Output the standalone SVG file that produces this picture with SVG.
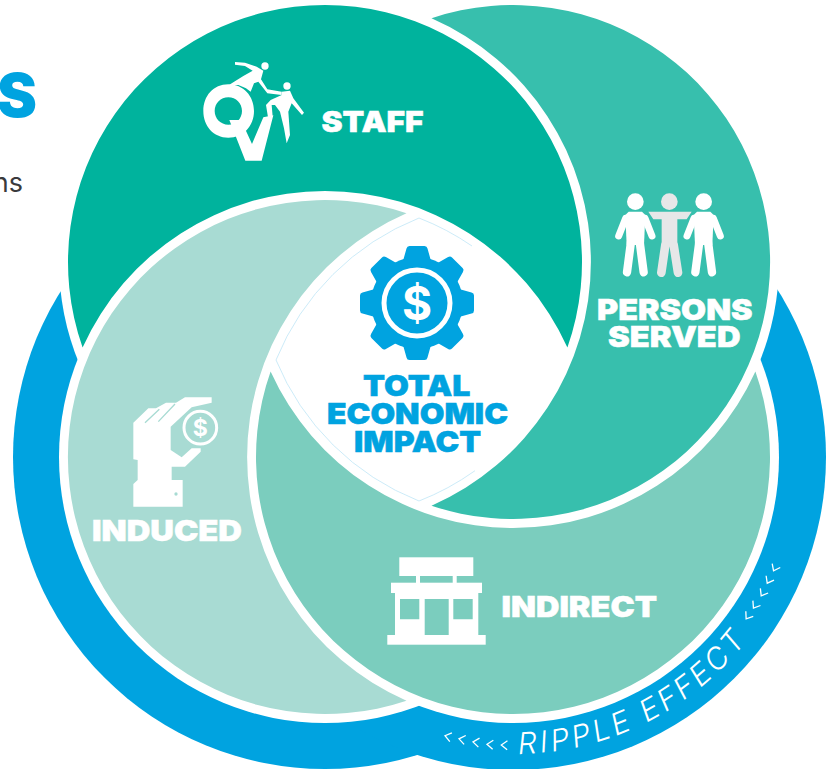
<svg xmlns="http://www.w3.org/2000/svg" xmlns:xlink="http://www.w3.org/1999/xlink" width="833" height="769" viewBox="0 0 833 769">
<style>
.lab{font-family:"Inter","Liberation Sans",sans-serif;font-weight:900;font-size:29px;fill:#fff;stroke:#fff;stroke-width:.5}
.tei{fill:#00A3E0;stroke:#00A3E0}
.blue{fill:#00A3E0}
.w{fill:#fff}
.g{fill:#E6E7E8}
.ws{stroke:#fff;fill:none;stroke-linecap:round;stroke-linejoin:round}
.gs{stroke:#E6E7E8;fill:none;stroke-linecap:round}
.chev{fill:none;stroke:#fff;stroke-width:1.3}
</style>
<defs>
<path id="tooth" d="M-14 -42L-10.500 -54.500Q-10 -57 -7.500 -57L7.500 -57Q10 -57 10.500 -54.500L14 -42Z"/>
<polyline id="chev" class="chev" points="5,-4.500 -1,0 5,4.500"/>
<g id="person">
<circle cx="0" cy="0" r="25"/>
<path class="ws" stroke-width="21" d="M-29 50L-50 103M29 50L50 103"/>
<path class="ws" stroke-width="25" d="M-13 120L-25 212M13 120L25 212"/>
<path d="M-20 30H20L30 40L26 130H-26L-30 40Z" class="w"/>
</g>
<path id="ripple" d="M518.200 754A297 297 0 0 0 744 644"/>
</defs>

<g id="heading-fragment">
<text x="37" y="117" text-anchor="end" font-family="Inter,'Liberation Sans',sans-serif" font-weight="900" font-size="60" class="blue">S</text>
<text x="23" y="192" text-anchor="end" font-family="Inter,'Liberation Sans',sans-serif" font-size="27" fill="#3A3A3C">ns</text>
</g>

<g id="ripple-effect">
<circle cx="325" cy="457" r="312" class="blue"/>
<circle cx="513" cy="457" r="313" class="blue"/>
<circle cx="325" cy="262" r="266" class="w"/>
<circle cx="513" cy="262" r="266" class="w"/>
<circle cx="325" cy="457" r="266" class="w"/>
<circle cx="513" cy="457" r="266" class="w"/>
<text font-family="Inter,'Liberation Sans',sans-serif" font-weight="300" font-style="italic" font-size="30" fill="#fff" letter-spacing="3.600"><textPath href="#ripple" xlink:href="#ripple">RIPPLE EFFECT</textPath></text>
<use href="#chev" transform="translate(446 736) rotate(13.500)"/>
<use href="#chev" transform="translate(460 739) rotate(10.500)"/>
<use href="#chev" transform="translate(474 742) rotate(7.500)"/>
<use href="#chev" transform="translate(488 744.300) rotate(4.500)"/>
<use href="#chev" transform="translate(502.300 745) rotate(2)"/>
<use href="#chev" transform="translate(746.700 618) rotate(-55.500)"/>
<use href="#chev" transform="translate(754 607.300) rotate(-57.500)"/>
<use href="#chev" transform="translate(761.700 595) rotate(-59.500)"/>
<use href="#chev" transform="translate(767.700 582.300) rotate(-61.500)"/>
<use href="#chev" transform="translate(774 570) rotate(-63.500)"/>
</g>

<g id="staff">
<path fill="#00B39D" d="M82.600 347.400A257 257 0 1 1 567.400 347.400A266 266 0 0 0 82.600 347.400Z"/>
<g transform="translate(180 40) scale(.33333)">
<path class="w" fill-rule="evenodd" d="M145 133C190 133 222 168 222 213C222 258 190 293 145 293C100 293 70 258 70 213C70 168 100 133 145 133ZM145 172C122 172 104 190 104 213C104 236 122 254 145 254C168 254 186 236 186 213C186 190 168 172 145 172Z"/>
<path class="w" d="M148 240H183L216 312L250 232L280 226L245 362H196Z"/>
<circle class="w" cx="255" cy="78" r="11"/>
<circle class="w" cx="321" cy="138" r="11"/>
<path class="w" d="M165 66L195 68L230 80L250 92L243 118L262 148L305 155L305 165L262 160L235 125L222 130L212 155L198 145L175 135L142 138L190 108L218 92L195 78L165 74Z"/>
<path class="w" d="M305 155L330 152L340 175L372 218L366 225L335 190L325 215L330 285L320 310L312 265L300 215L285 195L275 195L278 230L264 232L258 195L272 180L305 165Z"/>
</g>
<text class="lab" x="321.500" y="131.500" textLength="102" lengthAdjust="spacingAndGlyphs">STAFF</text>
</g>

<g id="persons-served">
<path fill="#37BFAD" d="M431.500 18.300A257 257 0 1 1 431.500 505.700A266 266 0 0 0 431.500 18.300Z"/>
<g transform="translate(580 170) scale(.33333)">
<g>
<circle cx="268" cy="95" r="25" class="g"/>
<path class="g" d="M205 125H335L320 148H292V225H245V148H220Z"/>
<path class="gs" stroke-width="26" d="M256 225L244 308M281 225L294 308"/>
</g>
<use href="#person" class="w" x="166" y="95"/>
<use href="#person" class="w" x="371" y="95"/>
</g>
<text class="lab" x="597" y="320" textLength="155.500" lengthAdjust="spacingAndGlyphs">PERSONS</text>
<text class="lab" x="608" y="346.500" textLength="132.500" lengthAdjust="spacingAndGlyphs">SERVED</text>
</g>

<g id="indirect">
<path fill="#7BCDBE" d="M755.400 371.600A257 257 0 1 1 270.600 371.600A266 266 0 0 0 755.400 371.600Z"/>
<g class="w">
<rect x="399.300" y="557.300" width="74" height="18.700"/>
<path d="M416 576h4v7h-4zM452.700 576h4v7h-4z"/>
<rect x="391" y="582.700" width="91" height="10.300"/>
<path fill-rule="evenodd" d="M395 593H478.300V635H395ZM400 599V619.300H419.300V599ZM424.700 599V635H448.700V599ZM453.300 599V619.300H472.700V599Z"/>
<rect x="387.300" y="635" width="98.400" height="9.700"/>
</g>
<text class="lab" x="501.500" y="617" textLength="155.500" lengthAdjust="spacingAndGlyphs">INDIRECT</text>
</g>

<g id="induced">
<path fill="#A8DBD3" d="M406.500 700.700A257 257 0 1 1 406.500 213.300A266 266 0 0 0 406.500 700.700Z"/>
<g transform="translate(80 380) scale(.33333)">
<path class="w" d="M160 128L205 85H228L258 68H288L315 52H395V68L335 82L272 140V210L305 232L335 205H362V215L315 260H275V300H308V380H160V312L173 300V240L160 238Z"/>
<path fill="none" stroke="#A8DBD3" stroke-width="4" d="M195 128L238 88M235 125L285 72"/>
<circle cx="288" cy="342" r="5" fill="#A8DBD3"/>
<circle cx="361" cy="143" r="54" fill="#A8DBD3"/>
<circle cx="361" cy="143" r="49" fill="none" stroke="#fff" stroke-width="9"/>
</g>
<text x="200.300" y="436" text-anchor="middle" font-family="Inter,'Liberation Sans',sans-serif" font-weight="700" font-size="23" fill="#fff">$</text>
<text class="lab" x="92" y="540.500" textLength="150" lengthAdjust="spacingAndGlyphs">INDUCED</text>
</g>

<g id="total-economic-impact">
<path fill="none" stroke="#BFE6F6" stroke-width=".8" d="M472 246A257 257 0 0 0 419 218A257 257 0 0 0 276 360A257 257 0 0 0 419 501A257 257 0 0 0 475 470.700"/>
<g class="blue" transform="translate(417 303)">
<circle r="46"/>
<use href="#tooth"/>
<use href="#tooth" transform="rotate(45)"/>
<use href="#tooth" transform="rotate(90)"/>
<use href="#tooth" transform="rotate(135)"/>
<use href="#tooth" transform="rotate(180)"/>
<use href="#tooth" transform="rotate(225)"/>
<use href="#tooth" transform="rotate(270)"/>
<use href="#tooth" transform="rotate(315)"/>
<circle r="33" fill="none" stroke="#fff" stroke-width="5"/>
</g>
<text x="417" y="320" text-anchor="middle" font-family="Inter,'Liberation Sans',sans-serif" font-weight="700" font-size="46" fill="#fff">$</text>
<text class="lab tei" style="fill:#00A3E0;stroke:#00A3E0" x="363" y="396" textLength="107.500" lengthAdjust="spacingAndGlyphs">TOTAL</text>
<text class="lab tei" style="fill:#00A3E0;stroke:#00A3E0" x="327" y="424" textLength="181" lengthAdjust="spacingAndGlyphs">ECONOMIC</text>
<text class="lab tei" style="fill:#00A3E0;stroke:#00A3E0" x="354" y="451.700" textLength="127" lengthAdjust="spacingAndGlyphs">IMPACT</text>
</g>
</svg>
